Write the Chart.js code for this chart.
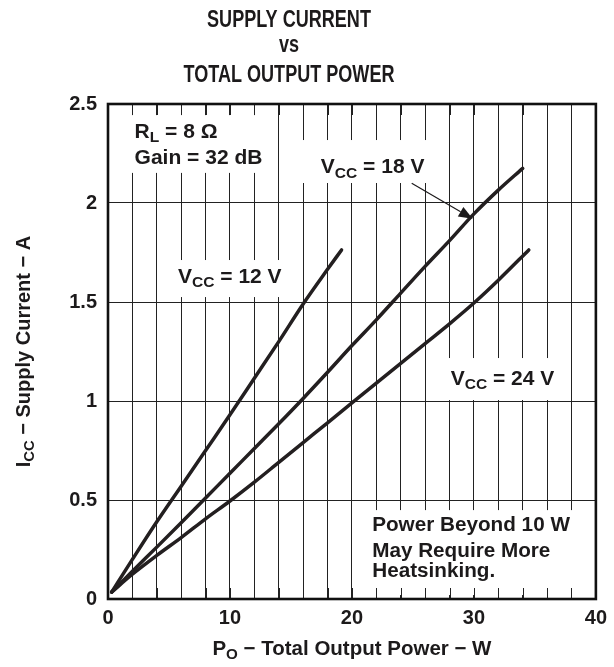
<!DOCTYPE html>
<html><head><meta charset="utf-8">
<script src="https://cdn.jsdelivr.net/npm/chart.js@4/dist/chart.umd.min.js"></script>
<style>html,body{margin:0;padding:0;background:#fff;}canvas{display:block}</style>
</head><body>
<canvas id="c" width="614" height="667"></canvas>
<script>
// ---- data ----
const vcc12Power   = [0.3, 2.0, 4.0, 6.0, 8.0, 10.0, 12.0, 14.0, 16.0, 18.0, 19.15];
const vcc12Current = [0.035, 0.20, 0.39, 0.57, 0.75, 0.93, 1.115, 1.30, 1.49, 1.665, 1.763];
const vcc18Power   = [0.3, 2.0, 4.0, 6.0, 8.0, 10.0, 12.0, 14.0, 16.0, 18.0, 20.0, 22.0, 24.0, 26.0, 28.0, 30.0, 32.0, 34.0];
const vcc18Current = [0.035, 0.14, 0.262, 0.385, 0.51, 0.635, 0.76, 0.885, 1.013, 1.145, 1.28, 1.41, 1.545, 1.68, 1.81, 1.945, 2.065, 2.175];
const vcc24Power   = [0.3, 2.0, 4.0, 6.0, 8.0, 10.0, 12.0, 14.0, 16.0, 18.0, 20.0, 22.0, 24.0, 26.0, 28.0, 30.0, 32.0, 34.5];
const vcc24Current = [0.035, 0.125, 0.22, 0.31, 0.405, 0.495, 0.59, 0.69, 0.79, 0.89, 0.99, 1.09, 1.19, 1.29, 1.39, 1.495, 1.61, 1.763];
const xTickLabels = ['0', '10', '20', '30', '40'];
const yTickLabels = ['0', '0.5', '1', '1.5', '2', '2.5'];
const titleLines = ['SUPPLY CURRENT', 'vs', 'TOTAL OUTPUT POWER'];

const FONT = "'Liberation Sans', Arial, Helvetica, sans-serif";
const INK = '#1c1a1b';
const LINE = '#231f20';

function pts(xs, ys) { return xs.map((x, i) => ({ x: x, y: ys[i] })); }

// label boxes (data units) that interrupt the vertical grid
const boxes = [
  { x0: 0, x1: 13.1, y0: 2.152, y1: 2.444 },
  { x0: 4.85, x1: 14.87, y0: 1.525, y1: 1.712 },
  { x0: 15.1, x1: 27.0, y0: 2.101, y1: 2.318 },
  { x0: 27.1, x1: 37.2, y0: 1.005, y1: 1.217 },
  { x0: 21.0, x1: 40, y0: 0.02, y1: 0.449 }
];

function richWidth(ctx, parts, size) {
  let w = 0;
  parts.forEach(p => {
    ctx.font = 'bold ' + (p[1] ? size * 0.74 : size) + 'px ' + FONT;
    w += ctx.measureText(p[0]).width;
  });
  return w;
}
function drawRich(ctx, parts, x, y, size, align) {
  let w = richWidth(ctx, parts, size);
  let cx = align === 'center' ? x - w / 2 : x;
  ctx.textBaseline = 'alphabetic';
  ctx.textAlign = 'left';
  parts.forEach(p => {
    const s = p[1] ? size * 0.74 : size;
    ctx.font = 'bold ' + s + 'px ' + FONT;
    ctx.fillText(p[0], cx, y + (p[1] ? size * 0.2 : 0));
    cx += ctx.measureText(p[0]).width;
  });
}

const annot = {
  id: 'annot',
  beforeDatasetsDraw(chart) {
    const ctx = chart.ctx, xs = chart.scales.x, ys = chart.scales.y, a = chart.chartArea;
    ctx.save();
    ctx.fillStyle = '#fff';
    boxes.forEach(b => {
      const l = xs.getPixelForValue(b.x0), r = xs.getPixelForValue(b.x1);
      const t = ys.getPixelForValue(b.y1), btm = ys.getPixelForValue(b.y0);
      ctx.fillRect(l, t, r - l, btm - t);
    });
    ctx.strokeStyle = '#222';
    ctx.lineWidth = 1;
    for (let v = 2; v < 40; v += 2) {
      const px = Math.round(xs.getPixelForValue(v)) + 0.5;
      ctx.beginPath();
      ctx.moveTo(px, a.top); ctx.lineTo(px, a.top + 11);
      ctx.moveTo(px, a.bottom); ctx.lineTo(px, a.bottom - 11);
      ctx.stroke();
    }
    ctx.strokeStyle = '#111';
    ctx.lineWidth = 2.6;
    ctx.strokeRect(a.left, a.top, a.right - a.left, a.bottom - a.top);
    ctx.restore();
  },
  afterDatasetsDraw(chart) {
    const ctx = chart.ctx, xs = chart.scales.x, ys = chart.scales.y, a = chart.chartArea;
    const X = v => xs.getPixelForValue(v), Y = v => ys.getPixelForValue(v);
    ctx.save();
    ctx.fillStyle = INK;
    drawRich(ctx, [['R'], ['L', 1], [' = 8 Ω']], X(2.18), Y(2.328), 21, 'left');
    drawRich(ctx, [['Gain = 32 dB']], X(2.18), Y(2.197), 21, 'left');
    drawRich(ctx, [['V'], ['CC', 1], [' = 12 V']], X(5.74), Y(1.596), 21, 'left');
    drawRich(ctx, [['V'], ['CC', 1], [' = 18 V']], X(17.45), Y(2.150), 21, 'left');
    drawRich(ctx, [['V'], ['CC', 1], [' = 24 V']], X(28.1), Y(1.081), 21, 'left');
    drawRich(ctx, [['Power Beyond 10 W']], X(21.66), Y(0.343), 20.7, 'left');
    drawRich(ctx, [['May Require More']], X(21.66), Y(0.214), 20.7, 'left');
    drawRich(ctx, [['Heatsinking.']], X(21.66), Y(0.111), 20.7, 'left');

    // arrow to the 18 V curve
    const sx = X(24.9), sy = Y(2.10), tx = X(29.9), ty = Y(1.92);
    const ang = Math.atan2(ty - sy, tx - sx);
    const hl = 14, hw = 5.5;
    const bx = tx - hl * Math.cos(ang), by = ty - hl * Math.sin(ang);
    ctx.strokeStyle = INK; ctx.lineWidth = 1.2;
    ctx.beginPath(); ctx.moveTo(sx, sy); ctx.lineTo(bx, by); ctx.stroke();
    ctx.beginPath();
    ctx.moveTo(tx, ty);
    ctx.lineTo(bx + hw * Math.sin(ang), by - hw * Math.cos(ang));
    ctx.lineTo(bx - hw * Math.sin(ang), by + hw * Math.cos(ang));
    ctx.closePath(); ctx.fill();

    // title (condensed bold)
    const tys = [27, 52, 82];
    titleLines.forEach((t, i) => {
      ctx.save();
      ctx.translate(289, tys[i]);
      ctx.scale(0.785, 1);
      ctx.font = 'bold 23px ' + FONT;
      ctx.textAlign = 'center'; ctx.textBaseline = 'alphabetic';
      ctx.fillText(t, 0, 0);
      ctx.restore();
    });

    // axis titles
    const xc = (a.left + a.right) / 2;
    drawRich(ctx, [['P'], ['O', 1], [' − Total Output Power − W']], xc, 655, 20.5, 'center');
    ctx.save();
    ctx.translate(30, (a.top + a.bottom) / 2);
    ctx.rotate(-Math.PI / 2);
    drawRich(ctx, [['I'], ['CC', 1], [' − Supply Current − A']], 0, 0, 20, 'center');
    ctx.restore();
    ctx.restore();
  }
};

const ds = (xs, ys) => ({
  data: pts(xs, ys), showLine: true, borderColor: LINE, borderWidth: 3.5,
  pointRadius: 0, fill: false, cubicInterpolationMode: 'monotone',
  borderJoinStyle: 'round', borderCapStyle: 'round'
});

new Chart(document.getElementById('c'), {
  type: 'scatter',
  data: { datasets: [ds(vcc12Power, vcc12Current), ds(vcc18Power, vcc18Current), ds(vcc24Power, vcc24Current)] },
  options: {
    responsive: false, animation: false, devicePixelRatio: 1,
    layout: { padding: { top: 104, right: 11, left: 0, bottom: 0 } },
    plugins: { legend: { display: false }, tooltip: { enabled: false }, title: { display: false } },
    scales: {
      x: {
        type: 'linear', min: 0, max: 40,
        afterFit(s) { s.height = 68; },
        ticks: {
          stepSize: 2, autoSkip: false, maxRotation: 0, padding: 7, color: INK,
          font: { family: FONT, size: 20, weight: 'bold' },
          callback: v => (v % 10 === 0 ? xTickLabels[v / 10] : '')
        },
        grid: { color: '#222', lineWidth: 1, drawTicks: false },
        border: { display: false }
      },
      y: {
        min: 0, max: 2.5,
        afterFit(s) { s.width = 108; },
        ticks: {
          stepSize: 0.5, padding: 11, color: INK,
          font: { family: FONT, size: 20, weight: 'bold' },
          callback: v => yTickLabels[Math.round(v * 2)]
        },
        grid: { color: '#222', lineWidth: 1, drawTicks: false },
        border: { display: false }
      }
    }
  },
  plugins: [annot]
});
</script>
</body></html>
